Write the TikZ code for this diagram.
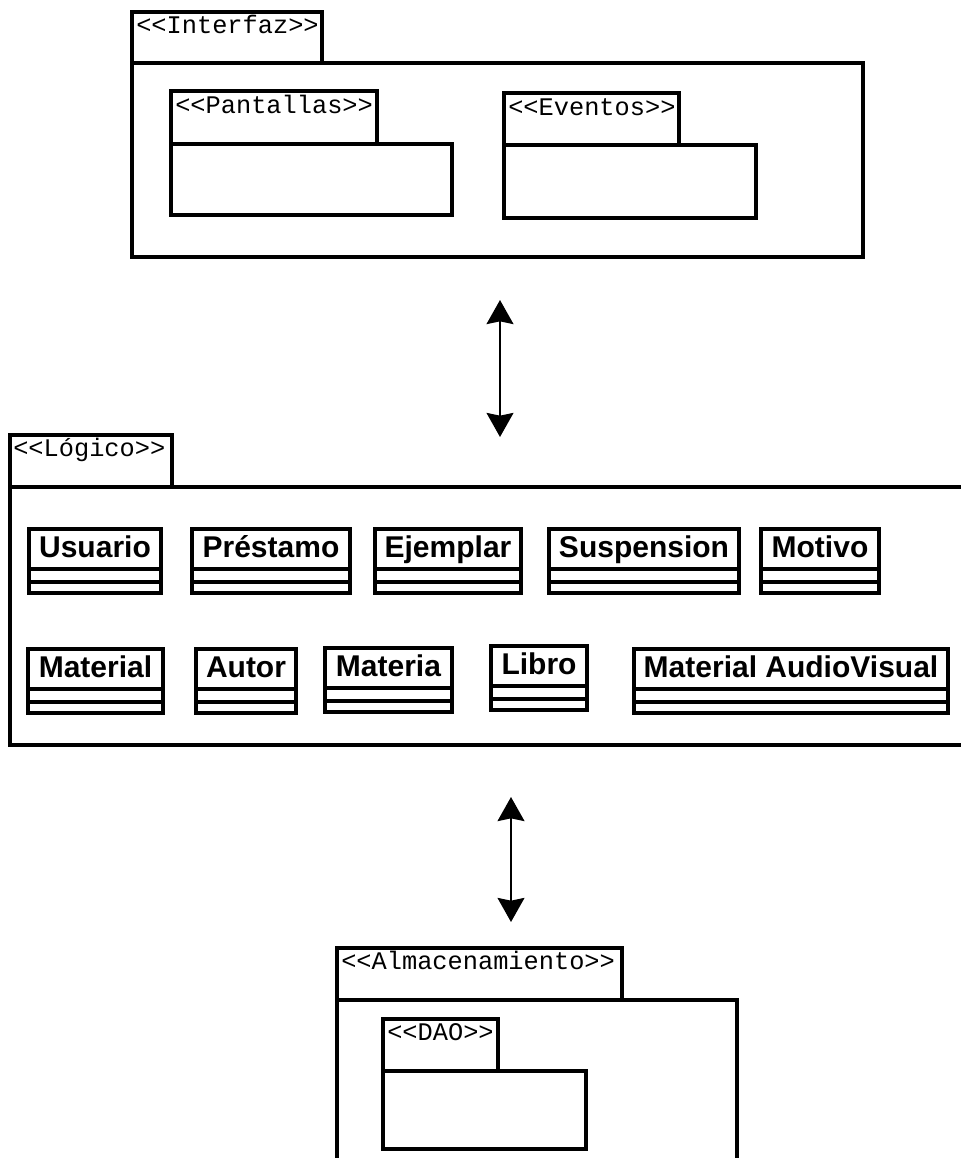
\documentclass[tikz,border=0pt]{standalone}
\usepackage{fontspec}
\setmainfont{Liberation Sans}
\newfontfamily\stereofont[Ligatures=TeXOff]{Liberation Mono}
\usetikzlibrary{arrows.meta,fit}
\begin{document}
\begin{tikzpicture}[x=0.75pt,y=-0.75pt,
  pkg/.style={draw, line width=2.3pt, fill=white, inner sep=0pt},
  stereo/.style={font=\stereofont\fontsize{19}{22}\selectfont, anchor=base west, inner sep=0pt},
  cls/.style={draw, line width=2.3pt, inner sep=0pt},
  clsname/.style={font=\bfseries\fontsize{22.5}{26}\selectfont, anchor=base, inner sep=0pt},
  link/.style={line width=2.2pt,
    {Stealth[length=18pt,width=20pt,inset=2pt]}-{Stealth[length=18pt,width=20pt,inset=2pt]}}
]
\useasboundingbox (0,0) rectangle (961,1158);
\clip (0,0) rectangle (961,1158);

% Interfaz package with its two sub-packages
\node[pkg, fit={(132,63) (863,257)}] (interfaz-body) {};
\node[pkg, fit={(132,12) (322,63)}] (interfaz-tab) {};
\node[stereo] (interfaz-label) at (136,33) {<<Interfaz>>};

\node[pkg, fit={(171,144) (452,215)}] (pantallas-body) {};
\node[pkg, fit={(171,91) (377,144)}] (pantallas-tab) {};
\node[stereo] (pantallas-label) at (175,113) {<<Pantallas>>};

\node[pkg, fit={(504,145) (756,218)}] (eventos-body) {};
\node[pkg, fit={(504,93) (679,145)}] (eventos-tab) {};
\node[stereo] (eventos-label) at (508,115) {<<Eventos>>};

% Logic package with the domain classes
\node[pkg, fit={(10,487) (985,745)}] (logico-body) {};
\node[pkg, fit={(10,435) (172,487)}] (logico-tab) {};
\node[stereo] (logico-label) at (13,456) {<<Lógico>>};

\foreach \id/\txt/\xa/\xb/\yt in {
    usuario/Usuario/29/161/529,
    prestamo/Préstamo/192/350/529,
    ejemplar/Ejemplar/375/521/529,
    suspension/Suspension/549/739/529,
    motivo/Motivo/761/879/529,
    material/Material/28/163/649,
    autor/Autor/196/296/649,
    materia/Materia/325/452/648,
    libro/Libro/491/587/646,
    audiovisual/Material AudioVisual/634/948/649}{
  \node[cls, fit={(\xa,\yt) (\xb,\yt+40)}] (\id-name) {};
  \node[cls, fit={(\xa,\yt+40) (\xb,\yt+53)}] (\id-attr) {};
  \node[cls, fit={(\xa,\yt+53) (\xb,\yt+64)}] (\id-ops) {};
  \node[clsname] (\id-label) at ({(\xa+\xb)/2},\yt+28) {\txt};
}

% Storage package
\node[pkg, fit={(337,1000) (737,1185)}] (almac-body) {};
\node[pkg, fit={(337,948) (622,1000)}] (almac-tab) {};
\node[stereo] (almac-label) at (341,969) {<<Almacenamiento>>};

\node[pkg, fit={(383,1071) (586,1149)}] (dao-body) {};
\node[pkg, fit={(383,1019) (498,1071)}] (dao-tab) {};
\node[stereo] (dao-label) at (387,1040) {<<DAO>>};

% Dependencies between layers
\coordinate (link1-top) at (500,300);
\coordinate (link1-bottom) at (500,437);
\coordinate (link2-top) at (511,797);
\coordinate (link2-bottom) at (511,922);
\draw[link] (link1-top) -- (link1-bottom);
\draw[link] (link2-top) -- (link2-bottom);
\end{tikzpicture}
\end{document}
